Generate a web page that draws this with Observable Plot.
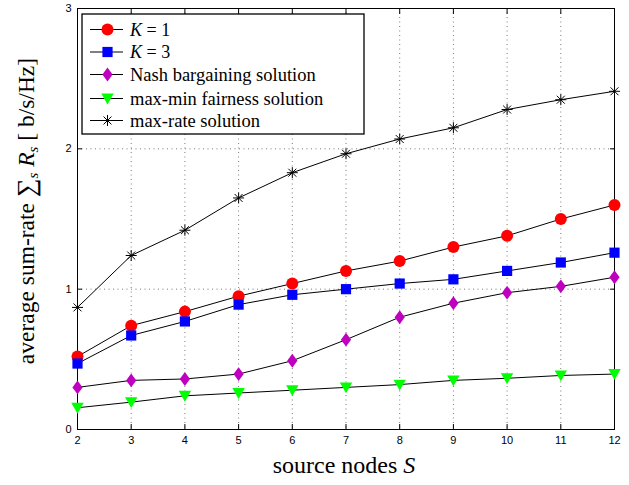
<!DOCTYPE html>
<html><head><meta charset="utf-8">
<script src="https://cdn.jsdelivr.net/npm/d3@7"></script>
<script src="https://cdn.jsdelivr.net/npm/@observablehq/plot@0.6"></script>
<style>body{margin:0;background:#fff}</style>
</head><body><div id="chart"></div>
<script>
// ---- data ----
const sources = [2, 3, 4, 5, 6, 7, 8, 9, 10, 11, 12];
const seriesNames = ["K = 1", "K = 3", "Nash bargaining solution", "max-min fairness solution", "max-rate solution"];
const k1Rates      = [0.52, 0.74, 0.84, 0.95, 1.04, 1.13, 1.20, 1.30, 1.38, 1.50, 1.60];
const k3Rates      = [0.47, 0.67, 0.77, 0.89, 0.96, 1.00, 1.04, 1.07, 1.13, 1.19, 1.26];
const nashRates    = [0.30, 0.35, 0.36, 0.395, 0.49, 0.64, 0.80, 0.90, 0.975, 1.02, 1.085];
const maxminRates  = [0.155, 0.195, 0.24, 0.26, 0.28, 0.30, 0.32, 0.35, 0.365, 0.385, 0.395];
const maxrateRates = [0.87, 1.24, 1.42, 1.65, 1.83, 1.965, 2.07, 2.15, 2.28, 2.35, 2.41];
const xTicks = [2, 3, 4, 5, 6, 7, 8, 9, 10, 11, 12];
const yTicks = [0, 1, 2, 3];

// ---- symbols ----
const symCircle = {draw(c, size){ const r = Math.sqrt(size/Math.PI); c.moveTo(r,0); c.arc(0,0,r,0,2*Math.PI); }};
const symSquare = {draw(c, size){ const r = Math.sqrt(size/Math.PI)*0.85; c.rect(-r,-r,2*r,2*r); }};
const symDiamond = {draw(c, size){ const r = Math.sqrt(size/Math.PI); c.moveTo(0,-1.15*r); c.lineTo(0.85*r,0); c.lineTo(0,1.15*r); c.lineTo(-0.85*r,0); c.closePath(); }};
const symTriDown = {draw(c, size){ const r = Math.sqrt(size/Math.PI); c.moveTo(-r,-0.8*r); c.lineTo(r,-0.8*r); c.lineTo(0,0.95*r); c.closePath(); }};
const symAster = {draw(c, size){ const r = Math.sqrt(size/Math.PI); const d = r*0.72;
  c.moveTo(-r,0); c.lineTo(r,0); c.moveTo(0,-r); c.lineTo(0,r);
  c.moveTo(-d,-d); c.lineTo(d,d); c.moveTo(-d,d); c.lineTo(d,-d); }};

const styles = [
  {fill: "#ff0000", stroke: "none", sym: symCircle, r: 6},
  {fill: "#0000ff", stroke: "none", sym: symSquare, r: 6},
  {fill: "#c000c0", stroke: "none", sym: symDiamond, r: 6},
  {fill: "#00ff00", stroke: "none", sym: symTriDown, r: 6.2},
  {fill: "none", stroke: "#000", sym: symAster, r: 5.5}
];
const allSeries = [k1Rates, k3Rates, nashRates, maxminRates, maxrateRates];
const rows = [];
allSeries.forEach((vals, si) => vals.forEach((v, i) => rows.push({series: seriesNames[si], si, x: sources[i], y: v})));

const dotMarks = styles.map((s, si) => Plot.dot(rows.filter(d => d.si === si), {
  x: "x", y: "y", symbol: () => s.sym, r: s.r, fill: s.fill, stroke: s.stroke, strokeWidth: 1
}));

const chart = Plot.plot({
  width: 629, height: 485,
  marginLeft: 77, marginRight: 15, marginTop: 8, marginBottom: 56,
  style: {background: "#fff", fontFamily: "'Liberation Sans', Arial, sans-serif", fontSize: "11px", color: "#000"},
  x: {domain: [2, 12], label: null},
  y: {domain: [0, 3], label: null},
  symbol: {type: "identity"},
  marks: [
    Plot.gridX(xTicks.slice(1, -1), {stroke: "#7a7a7a", strokeOpacity: 1, strokeDasharray: "1,3.5"}),
    Plot.gridY([1, 2], {stroke: "#7a7a7a", strokeOpacity: 1, strokeDasharray: "1,3.5"}),
    Plot.axisX(xTicks, {anchor: "bottom", tickSize: -5, tickPadding: 12, tickFormat: d => String(d), label: null}),
    Plot.axisX(xTicks, {anchor: "top", tickSize: -5, tickFormat: () => "", label: null}),
    Plot.axisY(yTicks, {anchor: "left", tickSize: -5, tickPadding: 11, tickFormat: d => String(d), label: null}),
    Plot.axisY(yTicks, {anchor: "right", tickSize: -5, tickFormat: () => "", label: null}),
    Plot.frame({stroke: "#000", strokeWidth: 1}),
    Plot.line(rows, {x: "x", y: "y", z: "series", stroke: "#000", strokeWidth: 1}),
    ...dotMarks
  ]
});
document.getElementById("chart").appendChild(chart);

// ---- labels & legend ----
const svg = d3.select(chart);
const serif = "'Liberation Serif', 'Times New Roman', serif";
const yl = svg.append("text")
  .attr("transform", "translate(29,211) rotate(-90)")
  .attr("text-anchor", "middle").attr("dominant-baseline", "middle")
  .style("font-family", serif).style("font-size", "23.5px").attr("fill", "#000");
yl.append("tspan").text("average sum-rate ");
yl.append("tspan").text("\u2211").style("font-size", "26px");
yl.append("tspan").text("s").attr("dy", 6).style("font-size", "15px").style("font-style", "italic");
yl.append("tspan").text(" R").attr("dy", -6).style("font-style", "italic");
yl.append("tspan").text("s").attr("dy", 6).style("font-size", "15px").style("font-style", "italic");
yl.append("tspan").text(" [ b/s/Hz]").attr("dy", -6);

const xl = svg.append("text")
  .attr("x", 344).attr("y", 473).attr("text-anchor", "middle")
  .style("font-family", serif).style("font-size", "24px").attr("fill", "#000");
xl.append("tspan").text("source nodes ");
xl.append("tspan").text("S").style("font-style", "italic");

const lg = svg.append("g");
lg.append("rect").attr("x", 82).attr("y", 14).attr("width", 282).attr("height", 120)
  .attr("fill", "#fff").attr("stroke", "#000").attr("stroke-width", 1.3);
const ys = [29.5, 52, 74.5, 98.5, 120.5];
seriesNames.forEach((name, i) => {
  const yy = ys[i];
  lg.append("line").attr("x1", 90).attr("x2", 123).attr("y1", yy).attr("y2", yy).attr("stroke", "#000");
  const s = styles[i];
  lg.append("path").attr("transform", `translate(107.5,${yy})`)
    .attr("d", d3.symbol(s.sym, Math.PI * s.r * s.r)())
    .attr("fill", s.fill).attr("stroke", s.stroke);
  const t = lg.append("text").attr("x", 130).attr("y", yy).attr("dominant-baseline", "central")
    .attr("text-anchor", "start")
    .style("font-family", serif).style("font-size", "18.5px").attr("fill", "#000");
  if (i < 2) {
    t.append("tspan").text("K").style("font-style", "italic").style("font-size", "18px");
    t.append("tspan").text(" = " + name.split("= ")[1]).style("font-size", "18px");
  } else {
    t.text(name);
  }
});
</script>
</body></html>
